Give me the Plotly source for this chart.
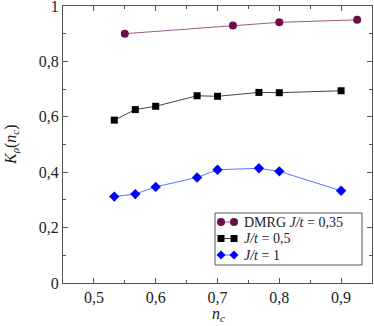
import plotly.graph_objects as go

dmrg_x = [0.55, 0.725, 0.80, 0.926]
dmrg_y = [0.900, 0.930, 0.941, 0.950]

j05_x = [0.533, 0.567, 0.600, 0.667, 0.700, 0.767, 0.800, 0.900]
j05_y = [0.588, 0.626, 0.638, 0.676, 0.674, 0.688, 0.687, 0.694]

j1_x = [0.533, 0.567, 0.600, 0.667, 0.700, 0.767, 0.800, 0.900]
j1_y = [0.312, 0.321, 0.347, 0.381, 0.409, 0.414, 0.403, 0.333]

x_ticks = [0.5, 0.6, 0.7, 0.8, 0.9]
x_ticklabels = ["0,5", "0,6", "0,7", "0,8", "0,9"]
y_ticks = [0, 0.2, 0.4, 0.6, 0.8, 1.0]
y_ticklabels = ["0", "0,2", "0,4", "0,6", "0,8", "1"]

series_names = ["DMRG <i>J/t</i> = 0,35", "<i>J/t</i> = 0,5", "<i>J/t</i> = 1"]
line_colors = ["#a0588a", "#444444", "#5577ff"]
marker_colors = ["#6a0f4a", "#000000", "#0000ff"]
marker_symbols = ["circle", "square", "diamond"]
marker_sizes = [8, 7, 8]

font = "'Liberation Serif', 'Times New Roman', serif"
W, H = 374, 326
ML, MR, MT, MB = 63, 2, 6, 43
PW, PH = W - ML - MR, H - MT - MB


def fx(px):
    return (px - ML) / PW


def fy(py):
    return (H - MB - py) / PH


fig = go.Figure()
for xs, ys, name, lc, mc, sym, sz in zip([dmrg_x, j05_x, j1_x], [dmrg_y, j05_y, j1_y],
                                         series_names, line_colors, marker_colors,
                                         marker_symbols, marker_sizes):
    fig.add_trace(go.Scatter(x=xs, y=ys, mode="lines+markers", name=name,
                             line=dict(color=lc, width=1),
                             marker=dict(symbol=sym, size=sz, color=mc),
                             showlegend=False))

axis_common = dict(showgrid=False, zeroline=False, showline=True, linecolor="#555555",
                   linewidth=1, mirror="ticks", ticks="inside", ticklen=5,
                   tickcolor="#555555", ticklabeloverflow="allow", automargin=False,
                   tickfont=dict(family=font, size=16, color="#222222"))

fig.update_xaxes(range=[0.45, 0.95], tickvals=x_ticks, ticktext=x_ticklabels,
                 minor=dict(ticks="inside", ticklen=3, dtick=0.05, tickcolor="#555555"),
                 **axis_common)
fig.update_yaxes(range=[0, 1.0], tickvals=y_ticks, ticktext=y_ticklabels,
                 minor=dict(ticks="inside", ticklen=3, dtick=0.1, tickcolor="#555555"),
                 **axis_common)

shapes = []
annotations = []

# axis titles
annotations.append(dict(text="<i>n<sub>c</sub></i>", xref="paper", yref="paper",
                        x=fx(218), y=fy(314), xanchor="center", yanchor="middle",
                        showarrow=False, font=dict(family=font, size=16, color="#222222")))
annotations.append(dict(text="<i>K<sub>ρ</sub></i>(<i>n<sub>c</sub></i>)", xref="paper",
                        yref="paper", x=fx(11), y=fy(145), xanchor="center",
                        yanchor="middle", textangle=-90, showarrow=False,
                        font=dict(family=font, size=16, color="#222222")))

# legend box
shapes.append(dict(type="rect", xref="paper", yref="paper", x0=fx(215), x1=fx(362),
                   y0=fy(265), y1=fy(213), line=dict(color="#555555", width=1),
                   fillcolor="white", layer="above"))
rows = [222, 238.5, 255]
for i, py in enumerate(rows):
    shapes.append(dict(type="line", xref="paper", yref="paper", x0=fx(221), x1=fx(234),
                       y0=fy(py), y1=fy(py), line=dict(color=line_colors[i], width=1),
                       layer="above"))
    for cx in (221, 234):
        common = dict(xref="paper", yref="paper", xsizemode="pixel", ysizemode="pixel",
                      xanchor=fx(cx), yanchor=fy(py), fillcolor=marker_colors[i],
                      line=dict(width=0), layer="above")
        if marker_symbols[i] == "circle":
            shapes.append(dict(type="circle", x0=-4, x1=4, y0=-4, y1=4, **common))
        elif marker_symbols[i] == "square":
            shapes.append(dict(type="rect", x0=-3.5, x1=3.5, y0=-3.5, y1=3.5, **common))
        else:
            shapes.append(dict(type="path", path="M 0 4.5 L 4.5 0 L 0 -4.5 L -4.5 0 Z",
                               **common))
    annotations.append(dict(text=series_names[i], xref="paper", yref="paper",
                            x=fx(242), y=fy(py), xanchor="left", yanchor="middle",
                            showarrow=False,
                            font=dict(family=font, size=14, color="#222222")))

fig.update_layout(
    width=W, height=H,
    margin=dict(l=ML, r=MR, t=MT, b=MB, autoexpand=False),
    paper_bgcolor="white", plot_bgcolor="white",
    font=dict(family=font, size=16, color="#222222"),
    showlegend=False,
    shapes=shapes,
    annotations=annotations,
)

fig.write_html("out.html", config={"displayModeBar": False},
               post_script="document.body.style.margin='0';")
